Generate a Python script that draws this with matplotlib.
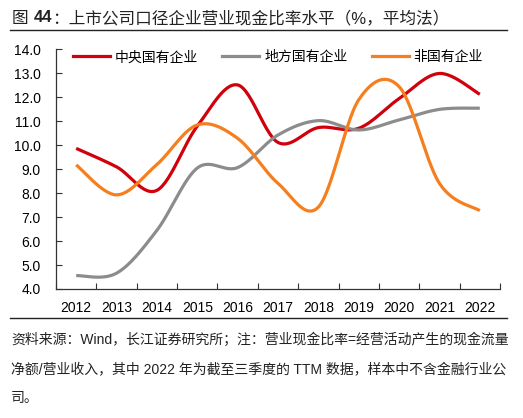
import numpy as np
import matplotlib
matplotlib.use("Agg")
import matplotlib.pyplot as plt
from matplotlib.lines import Line2D

plt.rcParams['font.family'] = ['Liberation Sans', 'Noto Sans CJK SC', 'DejaVu Sans']

years = ['2012', '2013', '2014', '2015', '2016', '2017', '2018', '2019', '2020', '2021', '2022']
central = [9.87, 9.10, 8.12, 10.80, 12.52, 10.12, 10.74, 10.71, 11.95, 13.00, 12.13]
local = [4.56, 4.66, 6.45, 9.05, 9.07, 10.43, 11.03, 10.64, 11.06, 11.50, 11.55]
nonstate = [9.18, 7.93, 9.20, 10.85, 10.29, 8.41, 7.42, 11.90, 12.45, 8.41, 7.27]
series_names = ['中央国有企业', '地方国有企业', '非国有企业']
colors = ['#D0000C', '#8C8C8C', '#F57E1E']

title_parts = ['图 ', '44', '：上市公司口径企业营业现金比率水平（%，平均法）']
notes = ['资料来源：Wind，长江证券研究所；注：营业现金比率=经营活动产生的现金流量',
         '净额/营业收入，其中 2022 年为截至三季度的 TTM 数据，样本中不含金融行业公',
         '司。']


def smooth(y, n=30):
    # Excel-style smoothed line (Catmull-Rom Bezier)
    y = np.asarray(y, float)
    x = np.arange(len(y), dtype=float)
    P = np.column_stack([x, y])
    Pe = np.vstack([P[0], P, P[-1]])
    out = []
    t = np.linspace(0, 1, n)[:, None]
    for i in range(len(P) - 1):
        p0, p3 = Pe[i + 1], Pe[i + 2]
        b1 = p0 + (Pe[i + 2] - Pe[i]) / 6
        b2 = p3 - (Pe[i + 3] - Pe[i + 1]) / 6
        seg = (1 - t) ** 3 * p0 + 3 * (1 - t) ** 2 * t * b1 + 3 * (1 - t) * t ** 2 * b2 + t ** 3 * p3
        out.append(seg if i == 0 else seg[1:])
    pts = np.vstack(out)
    return pts[:, 0], pts[:, 1]


W, H = 523, 418
fig = plt.figure(figsize=(W / 100, H / 100), dpi=100)
ax = fig.add_axes([56 / W, 1 - 289 / H, (500 - 56) / W, (289 - 49.5) / H])

for vals, c in zip([central, local, nonstate], colors):
    xs, ys = smooth(vals)
    ax.plot(xs, ys, color=c, lw=2.3, solid_capstyle='butt', zorder=3)

ax.set_xlim(-0.5, len(years) - 0.5)
ax.set_ylim(4, 14)
ax.set_yticks(np.arange(4, 14.01, 1))
ax.set_yticklabels([f'{v:.1f}' for v in np.arange(4, 14.01, 1)], fontsize=10)
ax.set_xticks(np.arange(len(years)))
ax.set_xticklabels(years, fontsize=10)
ax.set_xticks(np.arange(-0.5, len(years), 1), minor=True)
ax.tick_params(axis='x', which='major', length=0, pad=9)
ax.tick_params(axis='x', which='minor', length=4, direction='in', width=0.8, color='#333333')
ax.tick_params(axis='y', length=4, direction='in', width=0.8, color='#333333', pad=11)
for s in ['top', 'right']:
    ax.spines[s].set_visible(False)
for s in ['left', 'bottom']:
    ax.spines[s].set_color('#333333')
    ax.spines[s].set_linewidth(0.9)

handles = [Line2D([], [], color=c, lw=2.3) for c in colors]
ax.legend(handles, series_names, loc='upper left', bbox_to_anchor=(0.026, 1.02), ncol=3,
          frameon=False, fontsize=10, handlelength=2.65, handletextpad=0.36, columnspacing=1.75,
          borderaxespad=0)

# title with bold figure number
fig.canvas.draw()
renderer = fig.canvas.get_renderer()
xpos = 12 / W
for part in title_parts:
    t = fig.text(xpos, 1 - 18 / H, part, fontsize=12, va='center', ha='left', color='#222222',
                 fontweight='bold' if part == '44' else 'normal')
    bb = t.get_window_extent(renderer=renderer)
    xpos = bb.x1 / W

fig.add_artist(Line2D([10 / W, 507 / W], [1 - 29.5 / H, 1 - 29.5 / H], color='#222222', lw=1))
fig.add_artist(Line2D([10 / W, 507 / W], [1 - 318 / H, 1 - 318 / H], color='#222222', lw=1))
for ln, yy in zip(notes, [340, 370, 398]):
    fig.text(11 / W, 1 - yy / H, ln, fontsize=10.0, va='center', ha='left', color='#222222')

fig.savefig('out.png', dpi=100)
